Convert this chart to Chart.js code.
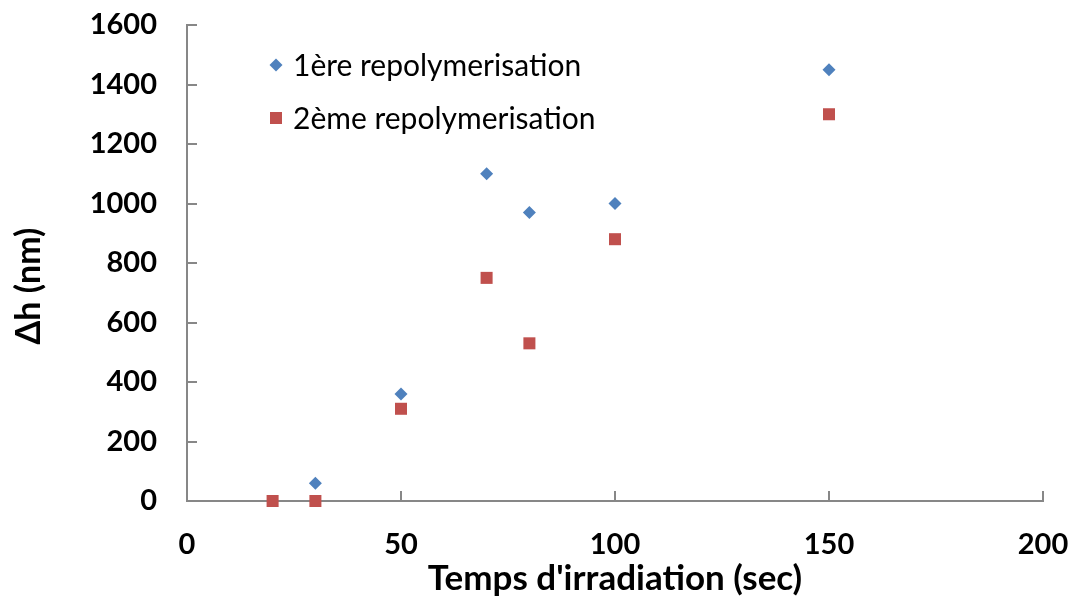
<!DOCTYPE html>
<html>
<head>
<meta charset="utf-8">
<script src="https://cdn.jsdelivr.net/npm/chart.js@4"></script>
<style>
  body { margin: 0; background: #fff; }
  #wrap { width: 1073px; height: 600px; }
</style>
</head>
<body>
<div id="wrap"><canvas id="scatter-chart"></canvas></div>
<script>
const seriesNames = ['1ère repolymerisation', '2ème repolymerisation']
const times1 = [30, 50, 70, 80, 100, 150]
const heights1 = [60, 360, 1100, 970, 1000, 1450]
const times2 = [20, 30, 50, 70, 80, 100, 150]
const heights2 = [0, 0, 310, 750, 530, 880, 1300]
const xTicks = [0, 50, 100, 150, 200]
const yTicks = [0, 200, 400, 600, 800, 1000, 1200, 1400, 1600]
const xTitle = "Temps d'irradiation (sec)"
const yTitle = 'Δh (nm)'

const axisColor = '#878787'
const fontFamily = 'Lato, "Liberation Sans", sans-serif'

function toPoints(xs, ys) {
    return xs.map((x, i) => ({ x: x, y: ys[i] }))
}

// tick marks point inward, legend sits inside the plot, y title is off-centre
const extras = {
    id: 'extras',
    afterDraw(chart) {
        const ctx = chart.ctx
        const xs = chart.scales.x
        const ys = chart.scales.y
        const area = chart.chartArea
        ctx.save()
        ctx.strokeStyle = axisColor
        ctx.lineWidth = 2
        ctx.beginPath()
        xTicks.forEach(v => {
            const px = Math.round(xs.getPixelForValue(v))
            ctx.moveTo(px, area.bottom)
            ctx.lineTo(px, area.bottom - 10)
        })
        yTicks.forEach(v => {
            const py = Math.round(ys.getPixelForValue(v))
            ctx.moveTo(area.left, py)
            ctx.lineTo(area.left + 10, py)
        })
        ctx.stroke()

        // legend
        const styles = ['rectRot', 'rect']
        const colors = ['#4F81BD', '#C0504D']
        const radii = [6.5, 8.5]
        ctx.font = '30px ' + fontFamily
        ctx.textBaseline = 'middle'
        seriesNames.forEach((name, i) => {
            const cy = 65 + i * 53
            ctx.fillStyle = colors[i]
            Chart.helpers.drawPoint(ctx, { pointStyle: styles[i], radius: radii[i], borderWidth: 0, rotation: 0 }, 276, cy)
            ctx.fillStyle = '#000'
            ctx.fillText(name, 293, cy + 1)
        })

        // y title
        ctx.translate(29, 286)
        ctx.rotate(-Math.PI / 2)
        ctx.font = 'bold 34px ' + fontFamily
        ctx.textAlign = 'center'
        ctx.fillStyle = '#000'
        ctx.fillText(yTitle, 0, 0)
        ctx.restore()
    }
}

const data = {
    datasets: [{
        label: seriesNames[0],
        data: toPoints(times1, heights1),
        pointStyle: 'rectRot',
        pointRadius: 6.5,
        pointHoverRadius: 6.5,
        backgroundColor: '#4F81BD',
        borderColor: '#4F81BD',
        borderWidth: 0,
        clip: false
    }, {
        label: seriesNames[1],
        data: toPoints(times2, heights2),
        pointStyle: 'rect',
        pointRadius: 8.5,
        pointHoverRadius: 8.5,
        backgroundColor: '#C0504D',
        borderColor: '#C0504D',
        borderWidth: 0,
        clip: false
    }]
}

const config = {
    type: 'scatter',
    data: data,
    options: {
        responsive: true,
        maintainAspectRatio: false,
        animation: false,
        layout: { padding: { top: 25, right: 30, left: 0, bottom: 0 } },
        plugins: {
            legend: { display: false },
            tooltip: { enabled: false }
        },
        scales: {
            x: {
                type: 'linear',
                min: 0,
                max: 200,
                afterBuildTicks: s => { s.ticks = xTicks.map(v => ({ value: v })) },
                afterFit: s => {
                    s.height = 99
                    s.paddingLeft = 0
                    s.paddingRight = 0
                },
                grid: { display: false, drawTicks: false },
                border: { display: true, color: axisColor, width: 2 },
                ticks: {
                    color: '#000',
                    padding: 26,
                    callback: v => String(v),
                    font: { family: fontFamily, size: 29, weight: 'bold' }
                },
                title: {
                    display: true,
                    text: xTitle,
                    color: '#000',
                    padding: { top: 0, bottom: 0 },
                    font: { family: fontFamily, size: 35, weight: 'bold' }
                }
            },
            y: {
                type: 'linear',
                min: 0,
                max: 1600,
                afterBuildTicks: s => { s.ticks = yTicks.map(v => ({ value: v })) },
                afterFit: s => {
                    s.width = 187
                    s.paddingTop = 0
                    s.paddingBottom = 0
                },
                grid: { display: false, drawTicks: false },
                border: { display: true, color: axisColor, width: 2 },
                ticks: {
                    color: '#000',
                    padding: 30,
                    callback: v => String(v),
                    font: { family: fontFamily, size: 29, weight: 'bold' }
                }
            }
        }
    },
    plugins: [extras]
}

const myChart = new Chart(document.getElementById('scatter-chart'), config)
</script>
</body>
</html>
